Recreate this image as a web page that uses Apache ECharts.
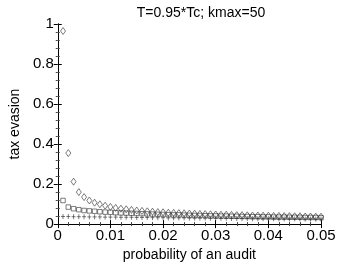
<!DOCTYPE html>
<html><head><meta charset="utf-8">
<script src="https://cdn.jsdelivr.net/npm/echarts@6/dist/echarts.min.js"></script>
<style>html,body{margin:0;padding:0;background:#fff}#c{width:354px;height:267px}</style>
</head><body><div id="c"></div>
<script>
const xs = [0.001,0.002,0.003,0.004,0.005,0.006,0.007,0.008,0.009,0.010,
0.011,0.012,0.013,0.014,0.015,0.016,0.017,0.018,0.019,0.020,
0.021,0.022,0.023,0.024,0.025,0.026,0.027,0.028,0.029,0.030,
0.031,0.032,0.033,0.034,0.035,0.036,0.037,0.038,0.039,0.040,
0.041,0.042,0.043,0.044,0.045,0.046,0.047,0.048,0.049,0.050];
const diamonds = [0.965,0.355,0.212,0.160,0.135,0.118,0.107,0.099,0.092,0.086,
0.081,0.077,0.074,0.071,0.068,0.066,0.064,0.062,0.060,0.059,
0.057,0.056,0.055,0.054,0.053,0.052,0.051,0.050,0.049,0.048,
0.047,0.047,0.046,0.045,0.045,0.044,0.043,0.043,0.042,0.042,
0.041,0.041,0.040,0.040,0.039,0.039,0.038,0.038,0.037,0.037];
const squares = [0.118,0.085,0.077,0.072,0.068,0.066,0.064,0.062,0.060,0.059,
0.057,0.056,0.055,0.054,0.053,0.052,0.051,0.050,0.049,0.048,
0.047,0.046,0.046,0.045,0.044,0.043,0.043,0.042,0.041,0.041,
0.040,0.040,0.039,0.039,0.038,0.038,0.037,0.037,0.036,0.036,
0.035,0.035,0.035,0.034,0.034,0.034,0.033,0.033,0.033,0.032];
const pluses = [0.038,0.038,0.037,0.037,0.037,0.036,0.036,0.036,0.035,0.035,
0.035,0.034,0.034,0.034,0.033,0.033,0.033,0.032,0.032,0.032,
0.031,0.031,0.031,0.031,0.030,0.030,0.030,0.030,0.029,0.029,
0.029,0.029,0.028,0.028,0.028,0.028,0.027,0.027,0.027,0.027,
0.027,0.026,0.026,0.026,0.026,0.026,0.025,0.025,0.025,0.025];
const xTicks = ['0','0.01','0.02','0.03','0.04','0.05'];
const yTicks = ['0','0.2','0.4','0.6','0.8','1'];

const FONT = 'Liberation Sans';
const pair = a => xs.map((x,i)=>[x,a[i]]);
const fmt = v => String(+(+v).toFixed(4));
const baseAxis = {
  axisLine:{show:true,lineStyle:{color:'#000',width:1}},
  axisTick:{show:true,inside:true,length:4,lineStyle:{color:'#000'}},
  minorTick:{show:true,splitNumber:5,length:2,lineStyle:{color:'#444'}},
  splitLine:{show:false}
};
const chart = echarts.init(document.getElementById('c'),null,{renderer:'canvas'});
chart.setOption({
  animation:false,
  backgroundColor:'#fff',
  title:{text:'T=0.95*Tc; kmax=50',left:196,top:1,textAlign:'center',
    textStyle:{fontFamily:FONT,fontSize:14,fontWeight:'normal',color:'#000'}},
  grid:{left:44,right:33,top:24,bottom:34},
  xAxis:[
    Object.assign({},baseAxis,{type:'value',min:0,max:0.05,interval:0.01,position:'bottom',
      name:'probability of an audit',nameLocation:'middle',nameGap:22,
      nameTextStyle:{fontFamily:FONT,fontSize:14,color:'#000'},
      axisLabel:{fontFamily:FONT,fontSize:15,color:'#000',margin:4,
        formatter:(v)=>xTicks[Math.round(v/0.01)] ?? fmt(v)}}),
    Object.assign({},baseAxis,{type:'value',min:0,max:0.05,interval:0.01,position:'top',
      axisLabel:{show:false}})
  ],
  yAxis:[
    Object.assign({},baseAxis,{type:'value',min:0,max:1,interval:0.2,position:'left',
      name:'tax evasion',nameLocation:'middle',nameGap:31,
      nameTextStyle:{fontFamily:FONT,fontSize:14,color:'#000'},
      axisLabel:{fontFamily:FONT,fontSize:15,color:'#000',margin:4,
        formatter:(v)=>yTicks[Math.round(v/0.2)] ?? fmt(v)}}),
    Object.assign({},baseAxis,{type:'value',min:0,max:1,interval:0.2,position:'right',
      axisLabel:{show:false}})
  ],
  series:[
    {type:'scatter',data:pair(diamonds),symbol:'diamond',symbolSize:[5,7],
     itemStyle:{color:'rgba(0,0,0,0)',borderColor:'#333',borderWidth:0.8}},
    {type:'scatter',data:pair(squares),symbol:'rect',symbolSize:[4.5,4.5],
     itemStyle:{color:'rgba(0,0,0,0)',borderColor:'#333',borderWidth:0.8}},
    {type:'scatter',data:pair(pluses),symbol:'path://M0,5L10,5M5,0L5,10',symbolSize:[4,5],
     itemStyle:{color:'rgba(0,0,0,0)',borderColor:'#333',borderWidth:0.8}}
  ]
});
</script></body></html>
